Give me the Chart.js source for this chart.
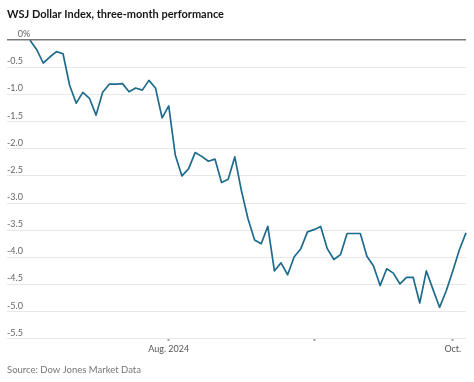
<!DOCTYPE html>
<html>
<head>
<meta charset="utf-8">
<script src="https://cdn.jsdelivr.net/npm/chart.js@4"></script>
<style>
  html, body { margin: 0; padding: 0; background: #fff; }
  #wrap { width: 474px; height: 382px; }
</style>
</head>
<body>
<div id="wrap"><canvas id="c" width="474" height="382"></canvas></div>
<script>
// Trading days, July 3 – Oct. 3, 2024
const dates = [
  '2024-07-03','2024-07-04','2024-07-05','2024-07-08','2024-07-09','2024-07-10','2024-07-11','2024-07-12',
  '2024-07-15','2024-07-16','2024-07-17','2024-07-18','2024-07-19','2024-07-22','2024-07-23','2024-07-24',
  '2024-07-25','2024-07-26','2024-07-29','2024-07-30','2024-07-31',
  '2024-08-01','2024-08-02','2024-08-05','2024-08-06','2024-08-07','2024-08-08','2024-08-09','2024-08-12',
  '2024-08-13','2024-08-14','2024-08-15','2024-08-16','2024-08-19','2024-08-20','2024-08-21','2024-08-22',
  '2024-08-23','2024-08-26','2024-08-27','2024-08-28','2024-08-29','2024-08-30',
  '2024-09-02','2024-09-03','2024-09-04','2024-09-05','2024-09-06','2024-09-09','2024-09-10','2024-09-11',
  '2024-09-12','2024-09-13','2024-09-16','2024-09-17','2024-09-18','2024-09-19','2024-09-20','2024-09-23',
  '2024-09-24','2024-09-25','2024-09-26','2024-09-27','2024-09-30',
  '2024-10-01','2024-10-02','2024-10-03'
];

// WSJ Dollar Index, % change since start of period
const performance = [
   0.00, -0.17, -0.42, -0.31, -0.21, -0.25, -0.83, -1.16, -0.96, -1.07,
  -1.38, -0.96, -0.81, -0.81, -0.80, -0.95, -0.88, -0.92, -0.74, -0.88,
  -1.43, -1.21, -2.12, -2.50, -2.37, -2.07, -2.14, -2.23, -2.19, -2.62,
  -2.56, -2.15, -2.77, -3.29, -3.68, -3.75, -3.43, -4.25, -4.10, -4.32,
  -3.99, -3.84, -3.53, -3.49, -3.43, -3.84, -4.04, -3.95, -3.56, -3.56,
  -3.56, -3.98, -4.16, -4.52, -4.21, -4.29, -4.49, -4.37, -4.37, -4.84,
  -4.25, -4.59, -4.92, -4.62, -4.25, -3.86, -3.55
];

// x-axis ticks (date -> label)
const xTickDates  = ['2024-08-01', '2024-09-02', '2024-10-01'];
const xTickLabels = ['Aug. 2024', '', 'Oct.'];

// y-axis range / ticks
const yMin = -5.5, yMax = 0, yStep = 0.5;

const titleText  = 'WSJ Dollar Index, three-month performance';
const sourceText = 'Source: Dow Jones Market Data';

const FONT = 'Lato, "Open Sans", sans-serif';
const xTickIdx = xTickDates.map(d => dates.indexOf(d));

const zeroLabelPlugin = {
  id: 'zeroLabel',
  afterDraw(chart) {
    const s = chart.scales.y;
    const ctx = chart.ctx;
    ctx.save();
    ctx.font = '9px ' + FONT;
    ctx.fillStyle = '#666';
    ctx.textBaseline = 'middle';
    const leftX = s.right + s.options.ticks.padding;
    const rightEdge = leftX + ctx.measureText('-0.5').width;
    const y = s.getPixelForValue(0) + s.options.ticks.labelOffset;
    ctx.textAlign = 'right';
    ctx.fillText('0', rightEdge, y);
    ctx.textAlign = 'left';
    ctx.fillText('%', rightEdge, y);
    ctx.restore();
  }
};

new Chart(document.getElementById('c'), {
  type: 'line',
  data: {
    labels: dates,
    datasets: [{
      data: performance.map((v, i) => ({ x: i, y: v })),
      borderColor: '#1e6b8c',
      borderWidth: 1.7,
      pointRadius: 0,
      tension: 0,
      fill: false,
      borderJoinStyle: 'round',
      clip: false
    }]
  },
  options: {
    responsive: false,
    animation: false,
    layout: { padding: { left: 7, right: 8, top: 0, bottom: 0 } },
    plugins: {
      legend: { display: false },
      tooltip: { enabled: false },
      title: {
        display: true,
        text: titleText,
        align: 'start',
        color: '#161616',
        font: { family: FONT, size: 11, weight: 'bold' },
        padding: { top: 8, bottom: 19 }
      },
      subtitle: {
        display: true,
        text: sourceText,
        position: 'bottom',
        align: 'start',
        color: '#777',
        font: { family: FONT, size: 9.5 },
        padding: { top: 7, bottom: 6 }
      }
    },
    scales: {
      x: {
        type: 'linear',
        min: -3.48,
        max: dates.length - 1,
        afterBuildTicks: (scale) => { scale.ticks = xTickIdx.map(v => ({ value: v })); },
        border: { display: false },
        grid: {
          drawOnChartArea: false,
          drawTicks: true,
          tickLength: 2,
          tickWidth: 2,
          tickColor: '#999'
        },
        ticks: {
          autoSkip: false,
          maxRotation: 0,
          padding: 3,
          color: '#555',
          font: { family: FONT, size: 9 },
          callback: (value, index) => xTickLabels[index]
        }
      },
      y: {
        min: yMin,
        max: yMax,
        border: { display: false },
        grid: {
          drawTicks: false,
          color: ctx => ctx.tick && ctx.tick.value === 0 ? '#7a7a7a' : '#e8e8e8',
          lineWidth: ctx => ctx.tick && ctx.tick.value === 0 ? 1.5 : 1
        },
        ticks: {
          stepSize: yStep,
          mirror: true,
          padding: 0,
          labelOffset: -6,
          color: '#666',
          font: { family: FONT, size: 9 },
          callback: v => v === 0 ? '' : v.toFixed(1)
        }
      }
    }
  },
  plugins: [zeroLabelPlugin]
});
</script>
</body>
</html>
